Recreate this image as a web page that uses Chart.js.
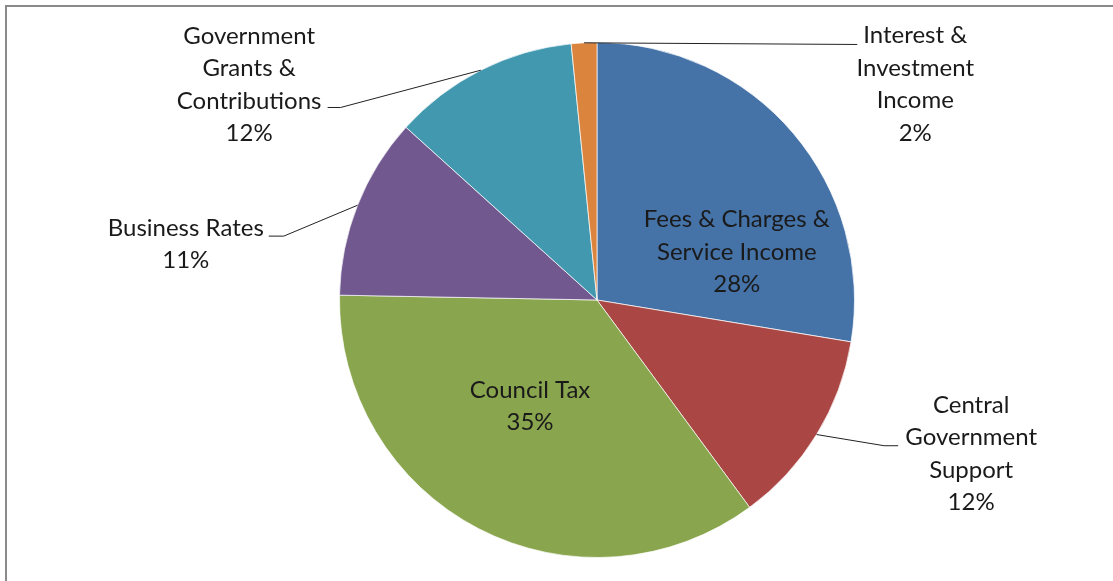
<!DOCTYPE html>
<html>
<head>
<meta charset="utf-8">
<script src="https://cdn.jsdelivr.net/npm/chart.js@4/dist/chart.umd.min.js"></script>
<style>
	html, body { margin: 0; padding: 0; background: #fff; overflow: hidden; }
	#frame { position: absolute; left: 5px; top: 5px; width: 1200px; height: 700px; border: 2px solid #8a8a8a; }
	#pieChart { position: absolute; left: 0; top: 0; }
</style>
</head>
<body>
<div id="frame"></div>
<canvas id="pieChart" width="1113" height="581"></canvas>
<script>
const categories = [
	'Fees & Charges & Service Income',
	'Central Government Support',
	'Council Tax',
	'Business Rates',
	'Government Grants & Contributions',
	'Interest & Investment Income'
];
const shares = [27.6, 12.3, 35.4, 11.4, 11.7, 1.6];
const labelLines = [
	['Fees & Charges &', 'Service Income'],
	['Central', 'Government', 'Support'],
	['Council Tax'],
	['Business Rates'],
	['Government', 'Grants &', 'Contributions'],
	['Interest &', 'Investment', 'Income']
];
const colors = ['#4572A7', '#AA4643', '#89A54E', '#71588F', '#4198AF', '#DB843D'];

// label placement relative to pie centre (in radius units), leader ends in px from label centre
const labelLayout = [
	{ dx: 0.543, dy: -0.186 },
	{ dx: 1.453, dy: 0.597, end: [-73, -8], elbow: -14 },
	{ dx: -0.26, dy: 0.413 },
	{ dx: -1.597, dy: -0.217, end: [83, -8], elbow: 15 },
	{ dx: -1.351, dy: -0.835, end: [78.5, 22.5], elbow: 13 },
	{ dx: 1.236, dy: -0.837, end: [-58, -40], elbow: 0 }
];

const pieLabels = {
	id: 'pieLabels',
	afterDatasetsDraw(chart) {
		const ctx = chart.ctx;
		const meta = chart.getDatasetMeta(0);
		const total = shares.reduce((a, b) => a + b, 0);
		ctx.save();
		ctx.font = '24px Lato';
		ctx.fillStyle = '#1a1a1a';
		ctx.textAlign = 'center';
		ctx.textBaseline = 'middle';
		meta.data.forEach((arc, i) => {
			const p = arc.getProps(['x', 'y', 'startAngle', 'endAngle', 'outerRadius'], true);
			const r = p.outerRadius;
			const lay = labelLayout[i];
			const cx = p.x + lay.dx * r;
			const cy = p.y + lay.dy * r;
			const lines = labelLines[i].concat([Math.round(shares[i] / total * 100) + '%']);
			const lh = 32.5;
			lines.forEach((t, k) => {
				ctx.fillText(t, cx, cy + (k - (lines.length - 1) / 2) * lh);
			});
			if (lay.end) {
				const mid = (p.startAngle + p.endAngle) / 2;
				const sx = p.x + Math.cos(mid) * r;
				const sy = p.y + Math.sin(mid) * r;
				const ex = cx + lay.end[0];
				const ey = cy + lay.end[1];
				ctx.beginPath();
				ctx.strokeStyle = '#222';
				ctx.lineWidth = 1;
				ctx.moveTo(sx, sy);
				ctx.lineTo(ex + lay.elbow, ey);
				ctx.lineTo(ex, ey);
				ctx.stroke();
			}
		});
		ctx.restore();
	}
};

new Chart(document.getElementById('pieChart').getContext('2d'), {
	type: 'pie',
	data: {
		labels: categories,
		datasets: [{
			data: shares,
			backgroundColor: colors,
			borderColor: 'rgba(255, 255, 255, 0.7)',
			borderWidth: 1
		}]
	},
	options: {
		responsive: false,
		animation: false,
		layout: { padding: { left: 339, right: 258, top: 42, bottom: 23 } },
		plugins: {
			legend: { display: false },
			tooltip: { enabled: false }
		}
	},
	plugins: [pieLabels]
});
</script>
</body>
</html>
